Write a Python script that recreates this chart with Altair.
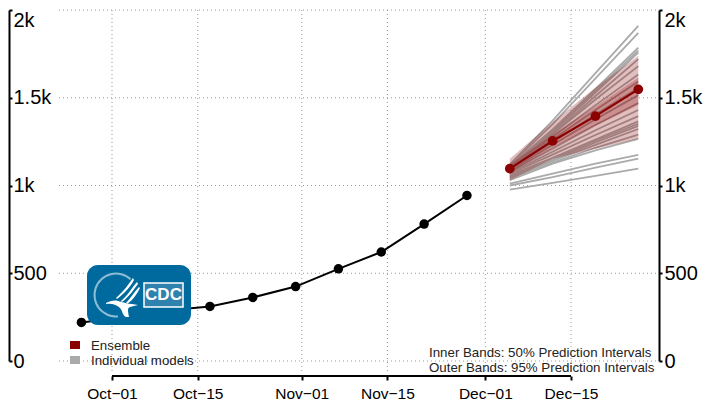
import altair as alt
import pandas as pd

obs_dates = ["2020-09-26","2020-10-03","2020-10-10","2020-10-17","2020-10-24","2020-10-31",
             "2020-11-07","2020-11-14","2020-11-21","2020-11-28"]
obs_values = [220, 250, 288, 311, 362, 424, 525, 621, 780, 943]

fc_dates = ["2020-12-05","2020-12-12","2020-12-19","2020-12-26"]
ens_values = [1096, 1254, 1395, 1548]
lo95 = [1028, 1153, 1209, 1266]
hi95 = [1153, 1362, 1559, 1740]
lo50 = [1070, 1215, 1340, 1458]
hi50 = [1120, 1290, 1450, 1616]

models = [
    [977, 1015, 1055, 1096], [1000, 1048, 1102, 1153], [1011, 1068, 1124, 1175],
    [1030, 1125, 1200, 1266], [1040, 1130, 1215, 1290], [1045, 1140, 1232, 1322],
    [1050, 1145, 1245, 1340], [1055, 1150, 1255, 1352], [1060, 1158, 1262, 1365],
    [1068, 1176, 1288, 1395], [1072, 1192, 1315, 1430], [1080, 1210, 1345, 1470],
    [1086, 1232, 1378, 1515], [1092, 1248, 1405, 1555], [1098, 1262, 1430, 1592],
    [1102, 1278, 1458, 1632], [1106, 1292, 1490, 1680], [1100, 1295, 1510, 1720],
    [1110, 1305, 1530, 1757], [1105, 1310, 1540, 1768], [1110, 1320, 1550, 1785],
    [1115, 1350, 1610, 1870], [1120, 1370, 1640, 1910],
]

x_ticks = ["2020-10-01","2020-10-15","2020-11-01","2020-11-15","2020-12-01","2020-12-15"]
y_ticks = [0, 500, 1000, 1500, 2000]
y_labels = "datum.value >= 1000 ? (datum.value / 1000) + 'k' : '' + datum.value"

FONT = "Liberation Sans"
W, H = 652, 351
X_OFF, Y_OFF = 9, 10   # page position of the plot's corner

x_scale = alt.Scale(type="utc", domain=["2020-09-14T04:00:00Z", "2020-12-29T17:00:00Z"])
y_scale = alt.Scale(domain=[0, 2000], nice=False)
X = alt.X("date:T", scale=x_scale, title=None, axis=alt.Axis(
    values=x_ticks, labelExpr="utcFormat(datum.value, '%b\u2212%d')", domain=False, grid=False,
    orient="bottom", offset=15, tickSize=4, tickWidth=2, tickColor="black",
    labelFont=FONT, labelFontSize=15.5, labelColor="black", labelPadding=6,
    labelFlush=False, labelOverlap=False))
Y = alt.Y("value:Q", scale=y_scale, title=None, axis=None)

obs = pd.DataFrame({"date": obs_dates, "value": obs_values})
ens = pd.DataFrame({"date": fc_dates, "value": ens_values})
bands = pd.DataFrame({"date": fc_dates, "lo95": lo95, "hi95": hi95, "lo50": lo50, "hi50": hi50})
mdl = pd.DataFrame([{"date": d, "value": v, "model": i}
                    for i, row in enumerate(models) for d, v in zip(fc_dates, row)])

dot = dict(strokeDash=[1, 3], color="#999999", strokeWidth=1)
blank = alt.Data(values=[{}])

vgrid = alt.Chart(pd.DataFrame({"date": x_ticks})).mark_rule(**dot).encode(
    x=X, y=alt.value(0), y2=alt.value(H + 11))
hgrid = alt.Chart(pd.DataFrame({"value": y_ticks})).mark_rule(**dot).encode(
    y=Y, x=alt.value(59 - X_OFF), x2=alt.value(W - 2))

xaxis = alt.Chart(pd.DataFrame({"date": [x_ticks[0]], "end": [x_ticks[-1]]})).mark_rule(
    color="black", strokeWidth=2).encode(x=X, x2="end:T", y=alt.value(H + 15))

def y_axis(offset, tick, pad):
    return alt.Axis(values=y_ticks, labelExpr=y_labels, orient="right", offset=offset,
                    domain=True, domainColor="black", domainWidth=2, grid=False,
                    tickSize=tick, tickWidth=2, tickColor="black", labelFont=FONT,
                    labelFontSize=20, labelColor="black", labelPadding=pad, labelOverlap=False,
                    labelBaseline=alt.expr("datum.value == 2000 ? 'top' : 'middle'"))

axis_left = alt.Chart(pd.DataFrame({"value": [0]})).mark_point(opacity=0).encode(
    y=alt.Y("value:Q", scale=y_scale, title=None, axis=y_axis(-W, 3, 1)))
axis_right = alt.Chart(pd.DataFrame({"value": [0]})).mark_point(opacity=0).encode(
    y=alt.Y("value:Q", scale=y_scale, title=None, axis=y_axis(-2, 3, 2)))

gray_lines = alt.Chart(mdl).mark_line(color="#AAAAAA", strokeWidth=1.8).encode(x=X, y=Y, detail="model:N")
band95 = alt.Chart(bands).mark_area(color="#8B0000", opacity=0.25).encode(
    x=X, y=alt.Y("lo95:Q", scale=y_scale, title=None, axis=None), y2="hi95:Q")
band50 = alt.Chart(bands).mark_area(color="#8B0000", opacity=0.25).encode(
    x=X, y=alt.Y("lo50:Q", scale=y_scale, title=None, axis=None), y2="hi50:Q")
ens_line = alt.Chart(ens).mark_line(color="#8B0000", strokeWidth=2.2).encode(x=X, y=Y)
ens_pts = alt.Chart(ens).mark_circle(color="#8B0000", size=95, opacity=1).encode(x=X, y=Y)
obs_line = alt.Chart(obs).mark_line(color="black", strokeWidth=2).encode(x=X, y=Y)
obs_pts = alt.Chart(obs).mark_circle(color="black", size=90, opacity=1).encode(x=X, y=Y)

def box(x0, x1, y0, y1, **kw):
    return alt.Chart(blank).mark_rect(**kw).encode(
        x=alt.value(x0 - X_OFF), x2=alt.value(x1 - X_OFF),
        y=alt.value(y0 - Y_OFF), y2=alt.value(y1 - Y_OFF))

def label(text, px, py, size=13.3, color="#222222", **kw):
    return alt.Chart(blank).mark_text(align="left", baseline="middle", font=FONT, fontSize=size,
                                      color=color, **kw).encode(
        x=alt.value(px - X_OFF), y=alt.value(py - Y_OFF), text=alt.value(text))

legend = [
    box(70, 80, 341, 349, color="#8B0000"), box(70, 80, 356, 364, color="#AAAAAA"),
    label("Ensemble", 91, 345.5), label("Individual models", 91, 360.5),
    label("Inner Bands: 50% Prediction Intervals", 429, 352.5),
    label("Outer Bands: 95% Prediction Intervals", 429, 367.5),
]

EAGLE = ("M13,-20 C8,-13 3,-6 -4,0 L-3,1 C5,-5 11,-12 14,-18 Z "
         "M17,-16 C11,-9 8,-3 1,3 L2,4 C10,-2 14,-9 18,-14 Z "
         "M19,-11 C14,-6 11,0 6,5 L7,6 C13,2 17,-4 20,-10 Z "
         "M-14,5 C-10,3 -6,2 -2,3 C3,4 8,6 12,6 L18,7 L10,9 C7,10 8,13 9,19 L6,19 "
         "C2,17 3,13 0,10 C-3,7 -8,5 -14,6 Z")

logo = [
    box(87, 191, 265, 325, color="#006A9E", cornerRadius=11),
    alt.Chart(blank).mark_arc(color="white", opacity=0.55, radius=20.5, radius2=22.5,
                              theta=3.05, theta2=7.03).encode(
        x=alt.value(116 - X_OFF), y=alt.value(295 - Y_OFF)),
    alt.Chart(blank).mark_point(shape=EAGLE, filled=True, color="white", opacity=1,
                                strokeWidth=0).encode(
        x=alt.value(120 - X_OFF), y=alt.value(298 - Y_OFF), size=alt.value(4)),
    box(144, 183, 283, 307, color="#2F82AE", stroke="white", strokeWidth=1.5),
    alt.Chart(blank).mark_text(align="center", baseline="middle", font=FONT, fontSize=17,
                               fontWeight="bold", color="white").encode(
        x=alt.value(163.5 - X_OFF), y=alt.value(295 - Y_OFF), text=alt.value("CDC")),
]

chart = alt.layer(
    vgrid, hgrid, xaxis, axis_left, axis_right,
    gray_lines, band95, band50, ens_line, ens_pts, obs_line, obs_pts,
    *legend, *logo,
).resolve_axis(y="independent").properties(
    width=W, height=H, background="white",
    padding={"left": X_OFF - 8, "top": Y_OFF - 8, "right": 695 - W - (X_OFF - 8), "bottom": 394 - H - (Y_OFF - 8)},
    autosize=alt.AutoSizeParams(type="none"),
).configure_view(stroke=None)

chart.save("out.html", embed_options={"renderer": "svg", "actions": False})
